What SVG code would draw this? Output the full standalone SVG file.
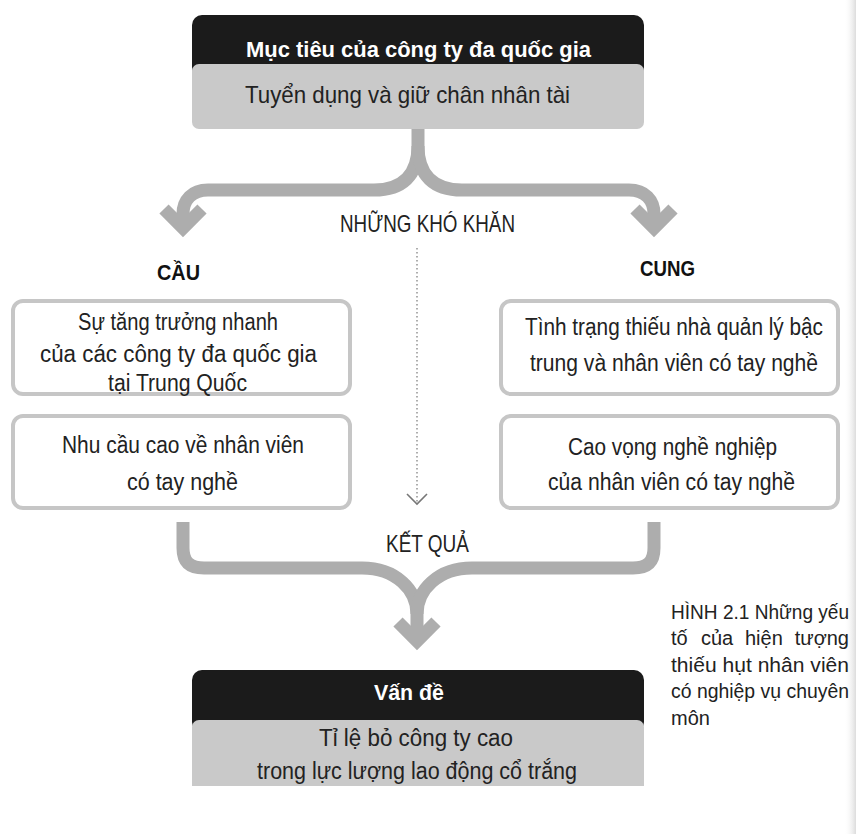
<svg xmlns="http://www.w3.org/2000/svg" width="856" height="834" viewBox="0 0 856 834">
<defs>
<linearGradient id="edge" x1="0" y1="0" x2="1" y2="0">
<stop offset="0" stop-color="#ffffff" stop-opacity="0"/>
<stop offset="1" stop-color="#dcdcdc"/>
</linearGradient>
<style>
.t{font-family:"Liberation Sans",Arial,sans-serif;font-size:23px;fill:#222}
.hd{font-family:"Liberation Sans",Arial,sans-serif;font-size:22.5px;font-weight:bold;fill:#fff}
.lb{font-family:"Liberation Sans",Arial,sans-serif;font-size:24px;fill:#222}
.bd{font-family:"Liberation Sans",Arial,sans-serif;font-size:22.5px;font-weight:bold;fill:#111}
.cap{font-family:"Liberation Sans",Arial,sans-serif;font-size:20px;fill:#222}
.box{fill:#fff;stroke:#c6c6c6;stroke-width:4}
.flow{fill:none;stroke:#adadad;stroke-width:13}
.head{fill:none;stroke:#adadad;stroke-width:13;stroke-linejoin:miter;stroke-miterlimit:4}
</style>
</defs>
<rect width="856" height="834" fill="#fff"/>
<rect x="844" y="0" width="12" height="834" fill="url(#edge)"/>

<g id="connectors">
<path class="flow" d="M418,126 V146 C418,176 402,190 374,190 H208 C192,190 183,200 183,214 V224"/>
<path class="flow" d="M418,146 C418,176 434,190 462,190 H629 C645,190 654,200 654,214 V224"/>
<polyline class="head" points="164,209 183,228 202,209"/>
<polyline class="head" points="635,209 654,228 673,209"/>
<path class="flow" d="M183,522 V548 C183,562 190,568 204,568 H362 C396,568 417,590 417,614 V632"/>
<path class="flow" d="M654,522 V548 C654,562 647,568 633,568 H472 C438,568 417,590 417,614"/>
<polyline class="head" points="398,622 417,641 436,622"/>
<line x1="417" y1="248" x2="417" y2="502" stroke="#9a9a9a" stroke-width="1.6" stroke-dasharray="1.6 2.4"/>
<polyline points="407,494 417,504 427,494" fill="none" stroke="#777" stroke-width="1.6"/>
</g>

<g id="goal">
<rect x="192" y="15" width="452" height="62" rx="10" fill="#1b1b1b"/>
<rect x="192" y="64" width="452" height="65" rx="7" fill="#c9c9c9"/>
<text class="hd" x="246" y="57" textLength="345" lengthAdjust="spacingAndGlyphs">Mục tiêu của công ty đa quốc gia</text>
<text class="t" x="245" y="103" style="font-size:24px" textLength="325" lengthAdjust="spacingAndGlyphs">Tuyển dụng và giữ chân nhân tài</text>
</g>

<g id="label-difficulties">
<text class="lb" x="340" y="232" textLength="175" lengthAdjust="spacingAndGlyphs">NHỮNG KHÓ KHĂN</text>
</g>

<g id="demand-title">
<text class="bd" x="157" y="280" textLength="43" lengthAdjust="spacingAndGlyphs">CẦU</text>
</g>
<g id="supply-title">
<text class="bd" x="640" y="276" textLength="55" lengthAdjust="spacingAndGlyphs">CUNG</text>
</g>

<g id="demand-1">
<rect class="box" x="13" y="301" width="337" height="93" rx="10"/>
<text class="t" x="78" y="330" textLength="200" lengthAdjust="spacingAndGlyphs">Sự tăng trưởng nhanh</text>
<text class="t" x="40" y="362" textLength="277" lengthAdjust="spacingAndGlyphs">của các công ty đa quốc gia</text>
<text class="t" x="108" y="391" textLength="139" lengthAdjust="spacingAndGlyphs">tại Trung Quốc</text>
</g>
<g id="demand-2">
<rect class="box" x="13" y="416" width="337" height="92" rx="10"/>
<text class="t" x="62" y="453" textLength="242" lengthAdjust="spacingAndGlyphs">Nhu cầu cao về nhân viên</text>
<text class="t" x="127" y="490" textLength="111" lengthAdjust="spacingAndGlyphs">có tay nghề</text>
</g>

<g id="supply-1">
<rect class="box" x="501" y="301" width="337" height="93" rx="10"/>
<text class="t" x="525" y="335" textLength="298" lengthAdjust="spacingAndGlyphs">Tình trạng thiếu nhà quản lý bậc</text>
<text class="t" x="530" y="371" textLength="288" lengthAdjust="spacingAndGlyphs">trung và nhân viên có tay nghề</text>
</g>
<g id="supply-2">
<rect class="box" x="501" y="416" width="337" height="92" rx="10"/>
<text class="t" x="568" y="455" textLength="209" lengthAdjust="spacingAndGlyphs">Cao vọng nghề nghiệp</text>
<text class="t" x="548" y="490" textLength="247" lengthAdjust="spacingAndGlyphs">của nhân viên có tay nghề</text>
</g>

<g id="label-result">
<text class="lb" x="386" y="552" textLength="83" lengthAdjust="spacingAndGlyphs">KẾT QUẢ</text>
</g>

<g id="problem">
<rect x="192" y="670" width="452" height="62" rx="10" fill="#1b1b1b"/>
<rect x="192" y="720" width="452" height="66" rx="7" fill="#c9c9c9"/>
<rect x="192" y="776" width="452" height="10" fill="#c9c9c9"/>
<text class="hd" x="374" y="700" textLength="70" lengthAdjust="spacingAndGlyphs">Vấn đề</text>
<text class="t" x="319" y="746" textLength="194" lengthAdjust="spacingAndGlyphs">Tỉ lệ bỏ công ty cao</text>
<text class="t" x="257" y="779" textLength="320" lengthAdjust="spacingAndGlyphs">trong lực lượng lao động cổ trắng</text>
</g>

<g id="caption">
<text class="cap" x="671" y="619" textLength="178" lengthAdjust="spacingAndGlyphs">HÌNH 2.1 Những yếu</text>
<text class="cap" y="645"><tspan x="671">tố</tspan> <tspan x="701">của</tspan> <tspan x="745">hiện</tspan></text>
<text class="cap" x="849" y="645" text-anchor="end">tượng</text>
<text class="cap" x="671" y="672" textLength="178" lengthAdjust="spacingAndGlyphs">thiếu hụt nhân viên</text>
<text class="cap" x="671" y="698" textLength="178" lengthAdjust="spacingAndGlyphs">có nghiệp vụ chuyên</text>
<text class="cap" x="671" y="725">môn</text>
</g>
</svg>
